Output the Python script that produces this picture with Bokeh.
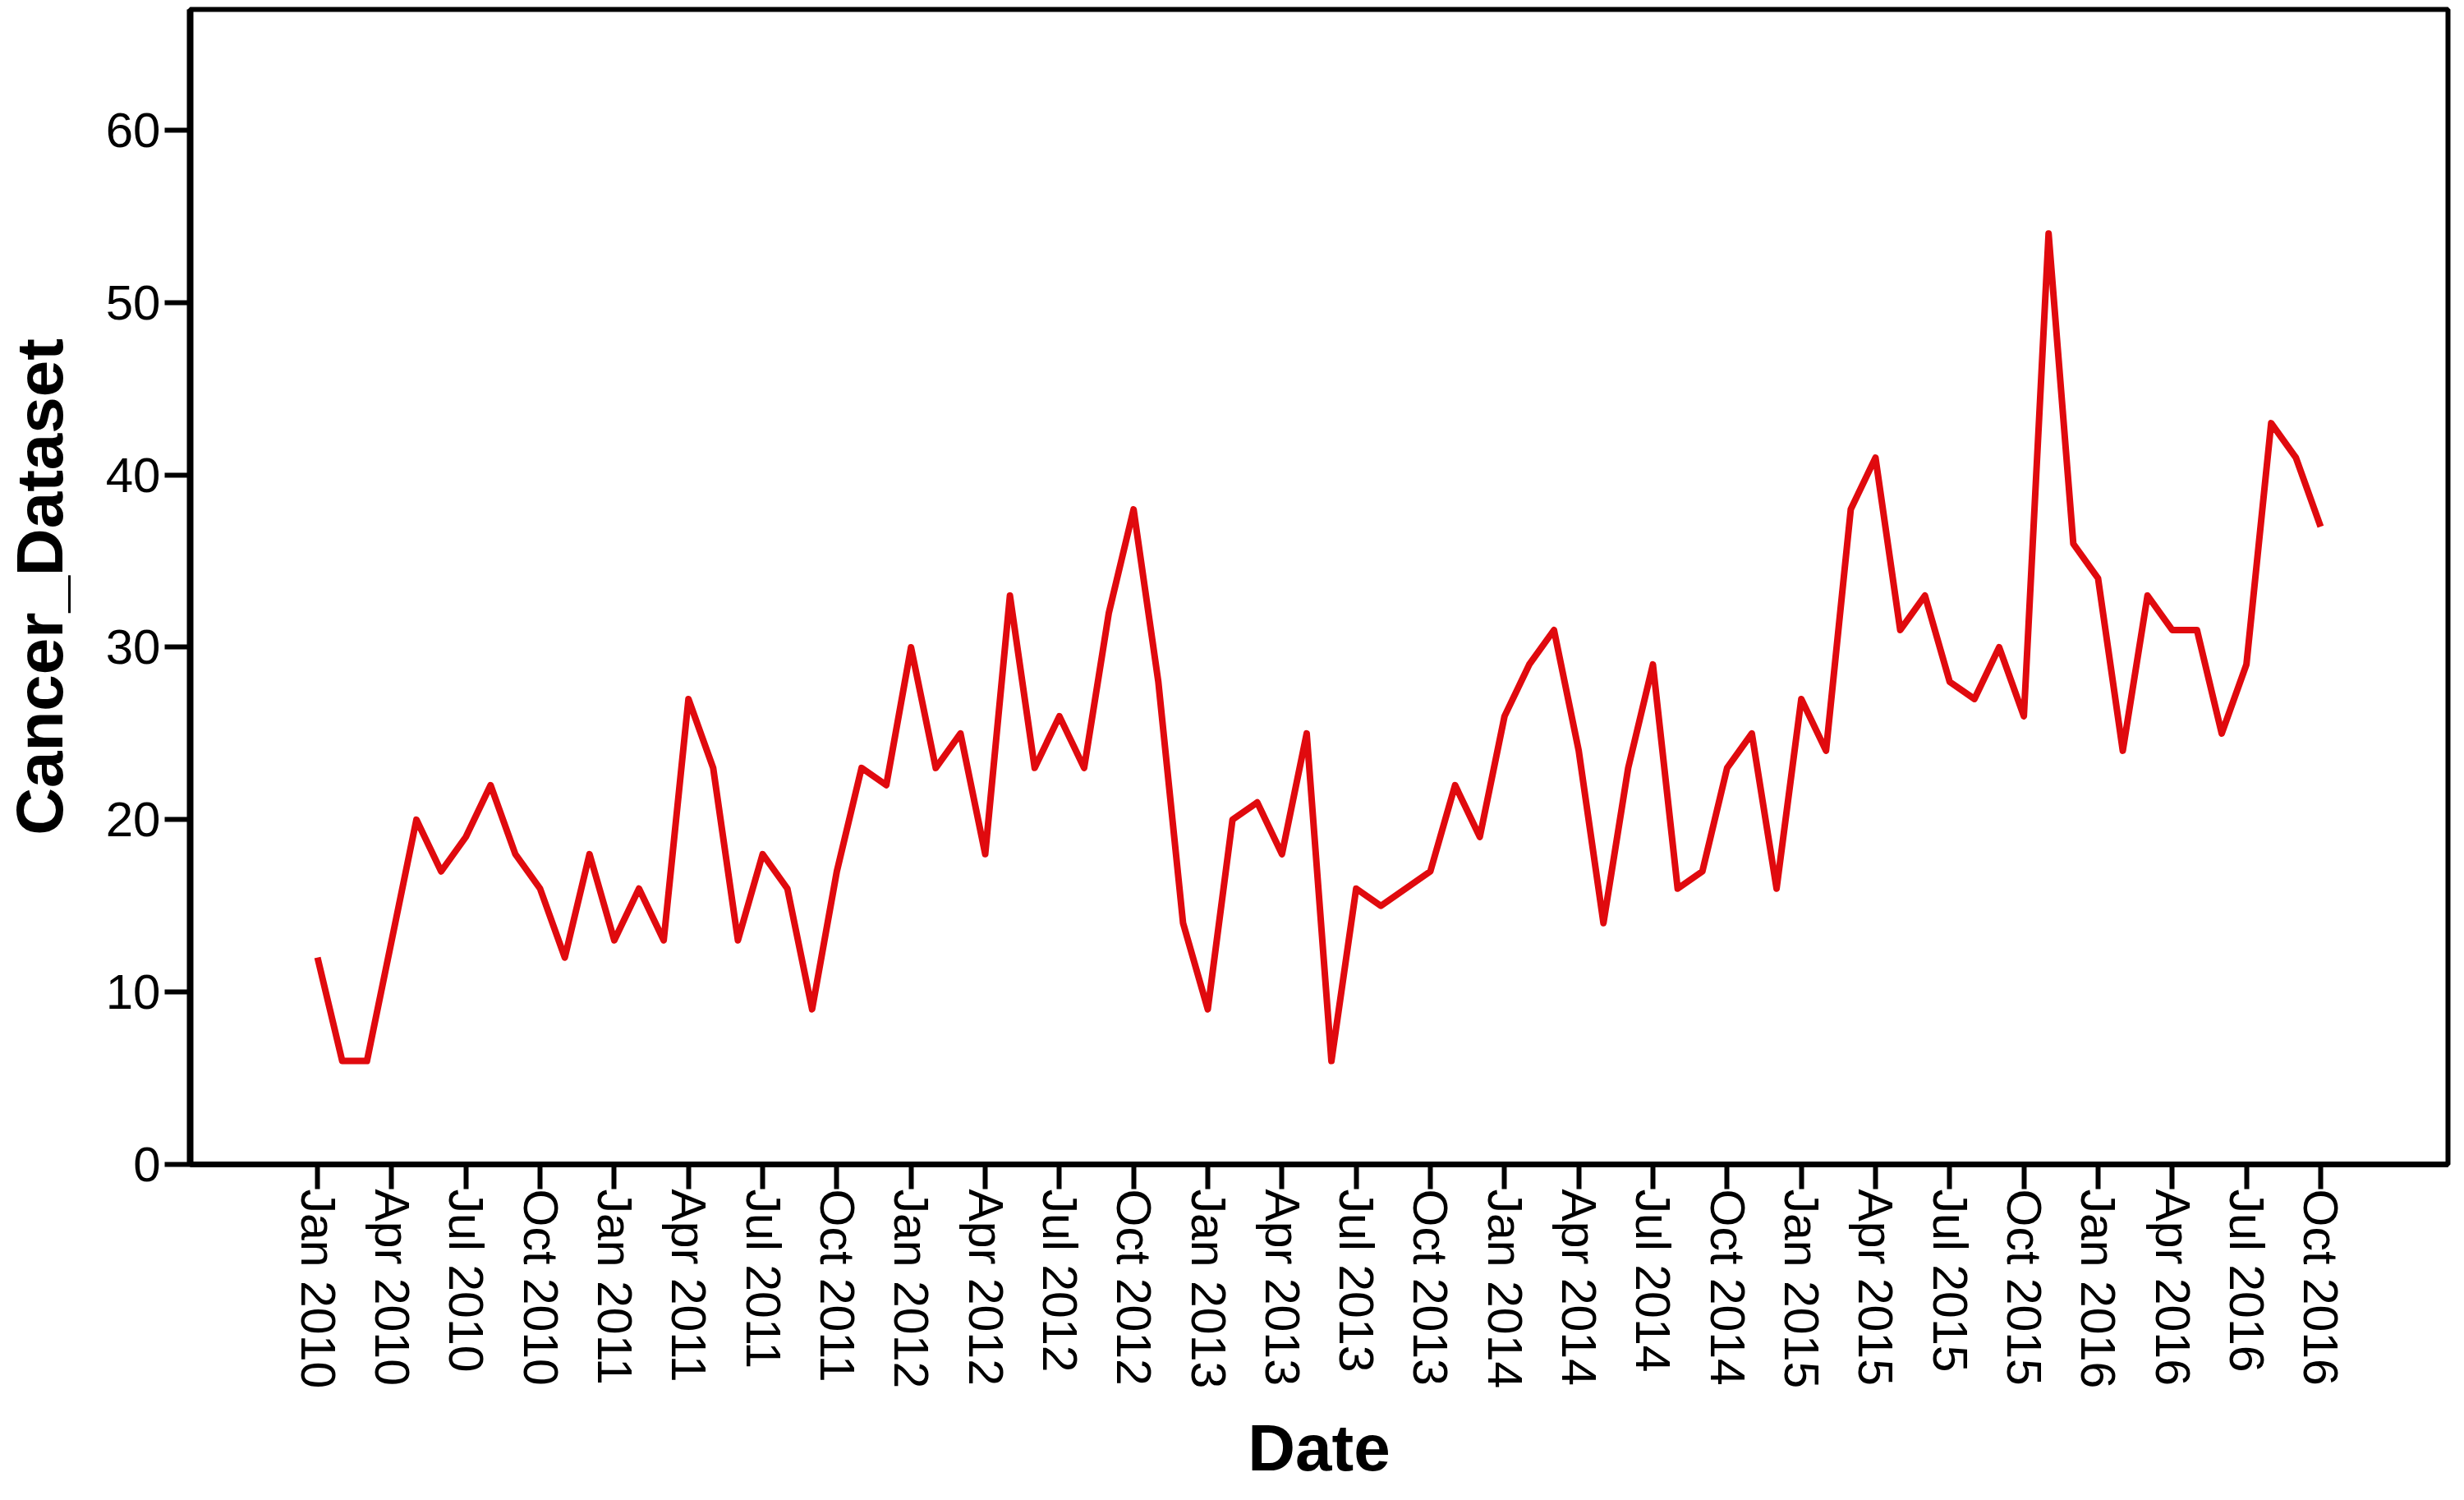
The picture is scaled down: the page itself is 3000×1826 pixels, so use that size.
import math
from bokeh.plotting import figure
from bokeh.models import Range1d, FixedTicker, ColumnDataSource
from bokeh.embed import file_html
from bokeh.resources import INLINE

# ---- data (monthly, Jan 2010 .. Oct 2016) ----
values_2010 = [12, 6, 6, 13, 20, 17, 19, 22, 18, 16, 12, 18]
values_2011 = [13, 16, 13, 27, 23, 13, 18, 16, 9, 17, 23, 22]
values_2012 = [30, 23, 25, 18, 33, 23, 26, 23, 32, 38, 28, 14]
values_2013 = [9, 20, 21, 18, 25, 6, 16, 15, 16, 17, 22, 19]
values_2014 = [26, 29, 31, 24, 14, 23, 29, 16, 17, 23, 25, 16]
values_2015 = [27, 24, 38, 41, 31, 33, 28, 27, 30, 26, 54, 36]
values_2016 = [34, 24, 33, 31, 31, 25, 29, 43, 41, 37]

tick_labels = [
    "Jan 2010", "Apr 2010", "Jul 2010", "Oct 2010",
    "Jan 2011", "Apr 2011", "Jul 2011", "Oct 2011",
    "Jan 2012", "Apr 2012", "Jul 2012", "Oct 2012",
    "Jan 2013", "Apr 2013", "Jul 2013", "Oct 2013",
    "Jan 2014", "Apr 2014", "Jul 2014", "Oct 2014",
    "Jan 2015", "Apr 2015", "Jul 2015", "Oct 2015",
    "Jan 2016", "Apr 2016", "Jul 2016", "Oct 2016",
]
y_ticks = [0, 10, 20, 30, 40, 50, 60]

values = (values_2010 + values_2011 + values_2012 + values_2013 +
          values_2014 + values_2015 + values_2016)
month_index = list(range(len(values)))
tick_positions = [3 * i for i in range(len(tick_labels))]

src = ColumnDataSource(dict(x=month_index, y=values))

FONT = "Liberation Sans"

p = figure(
    width=2984, height=1810,
    output_backend="svg", toolbar_location=None,
    x_range=Range1d(-5.15, 86.15), y_range=Range1d(0, 67),
    min_border_left=227, min_border_right=4, min_border_top=11, min_border_bottom=0,
    background_fill_color="white", border_fill_color="white",
)

p.line("x", "y", source=src, line_color="#E00A0E", line_width=8, line_join="round")

p.grid.visible = False
p.outline_line_color = "black"
p.outline_line_width = 6
p.outline_line_alpha = 1.0

# x axis
xa = p.xaxis[0]
xa.ticker = FixedTicker(ticks=tick_positions)
xa.major_label_overrides = {pos: lab for pos, lab in zip(tick_positions, tick_labels)}
xa.major_label_orientation = -math.pi / 2
xa.major_label_text_font = FONT
xa.major_label_text_font_size = "59px"
xa.major_label_text_color = "black"
xa.major_label_standoff = 0
xa.major_tick_out = 30
xa.major_tick_in = 0
xa.minor_tick_line_color = None
xa.major_tick_line_width = 6
xa.major_tick_line_color = "black"
xa.axis_line_width = 7
xa.axis_line_color = "black"
xa.axis_label = "Date"
xa.axis_label_text_font = FONT
xa.axis_label_text_font_style = "bold"
xa.axis_label_text_font_size = "80px"
xa.axis_label_text_color = "black"
xa.axis_label_standoff = 25

# y axis
ya = p.yaxis[0]
ya.ticker = FixedTicker(ticks=y_ticks)
ya.major_label_text_font = FONT
ya.major_label_text_font_size = "60px"
ya.major_label_text_color = "black"
ya.major_label_standoff = 5
ya.major_tick_out = 31
ya.major_tick_in = 0
ya.minor_tick_line_color = None
ya.major_tick_line_width = 6
ya.major_tick_line_color = "black"
ya.axis_line_width = 8
ya.axis_line_color = "black"
ya.axis_label = "Cancer_Dataset"
ya.axis_label_text_font = FONT
ya.axis_label_text_font_style = "bold"
ya.axis_label_text_font_size = "80px"
ya.axis_label_text_color = "black"
ya.axis_label_standoff = 33

open("out.html", "w").write(file_html(p, INLINE))
